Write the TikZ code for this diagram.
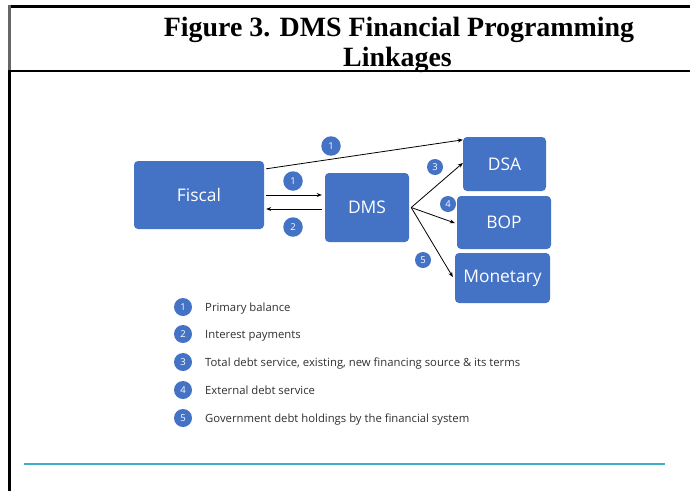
\documentclass[tikz,border=0pt]{standalone}
\usepackage{fontspec}
\newfontfamily\diagfont{Open Sans}
\newfontfamily\titlefont{Liberation Serif}
\usetikzlibrary{arrows.meta}
\definecolor{boxblue}{HTML}{4472C4}
\definecolor{rulecyan}{HTML}{3DAEC8}
\definecolor{legendtext}{HTML}{303030}
\begin{document}
\begin{tikzpicture}[x=1pt,y=-1pt,
  block/.style={draw=none, fill=boxblue, rounded corners=4pt, text=white,
    font=\diagfont\fontsize{17.4}{20}\selectfont, inner sep=0pt, anchor=center},
  num/.style={circle, fill=boxblue, text=white, inner sep=0pt, minimum size=19.5pt,
    font=\diagfont\fontsize{9.5}{10}\selectfont},
  legnum/.style={num, minimum size=18pt},
  link/.style={draw=black, line width=0.8pt, -{Stealth[length=5pt,width=4pt]}},
  legtext/.style={anchor=base west, inner sep=0pt, text=legendtext,
    font=\diagfont\fontsize{11.3}{13}\selectfont},
  titletext/.style={anchor=base, inner sep=0pt,
    font=\titlefont\bfseries\fontsize{27.9}{30}\selectfont},
  frameline/.style={line width=2.4pt, black}
]
\useasboundingbox (0,0) rectangle (690,491);
\fill[white] (0,0) rectangle (690,491);

% frame
\draw[frameline] (8.3,6.5) -- (690,6.5);
\draw[line width=2.4pt, black!60] (9.5,5.3) -- (9.5,71);
\draw[frameline] (9.5,71) -- (9.5,491);
\draw[frameline] (8.3,71) -- (690,71);
\draw[line width=2pt, rulecyan] (24,464) -- (665,464);

% title
\node[titletext] (t1) at (399,36) {Figure 3. DMS Financial Programming};
\node[titletext] (t2) at (397.5,66) {Linkages};

% boxes
\node[block, minimum width=130pt, minimum height=68pt] (fiscal) at (199,195) {Fiscal};
\node[block, minimum width=84pt, minimum height=69pt] (dms) at (367,207.5) {DMS};
\node[block, minimum width=83pt, minimum height=54pt] (dsa) at (504.5,164) {DSA};
\node[block, minimum width=94pt, minimum height=53pt] (bop) at (504,222.5) {BOP};
\node[block, minimum width=95pt, minimum height=50pt] (mon) at (502.5,278) {Monetary};

% connectors
\draw[link] ([shift={(2,8)}]fiscal.north east) -- ([shift={(0,3)}]dsa.north west);
\draw[link] ([shift={(2,0)}]fiscal.east) -- ([shift={(-3,-12.5)}]dms.west);
\draw[link] ([shift={(-3,1.5)}]dms.west) -- ([shift={(2,14)}]fiscal.east);
\draw[link] ([shift={(2,0)}]dms.east) -- ([shift={(0,-1)}]dsa.west);
\draw[link] ([shift={(2,0)}]dms.east) -- ([shift={(-2,0.5)}]bop.west);
\draw[link] ([shift={(2,0)}]dms.east) -- ([shift={(-2,-1)}]mon.west);

% numbered markers
\node[num] (n1a) at (331,146) {1};
\node[num] (n1b) at (293,181) {1};
\node[num] (n2) at (293,227) {2};
\node[num, minimum size=16pt] (n3) at (435,167) {3};
\node[num, minimum size=16pt] (n4) at (448,204) {4};
\node[num, minimum size=16pt] (n5) at (423,260) {5};

% legend
\node[legnum] (l1) at (183,307) {1};
\node[legnum] (l2) at (183,334) {2};
\node[legnum] (l3) at (183,362) {3};
\node[legnum] (l4) at (183,390) {4};
\node[legnum] (l5) at (183,418) {5};
\node[legtext] (lt1) at (205,311.5) {Primary balance};
\node[legtext] (lt2) at (205,338.5) {Interest payments};
\node[legtext] (lt3) at (205,366.5) {Total debt service, existing, new financing source \& its terms};
\node[legtext] (lt4) at (205,394.5) {External debt service};
\node[legtext] (lt5) at (205,422.5) {Government debt holdings by the financial system};
\end{tikzpicture}
\end{document}
